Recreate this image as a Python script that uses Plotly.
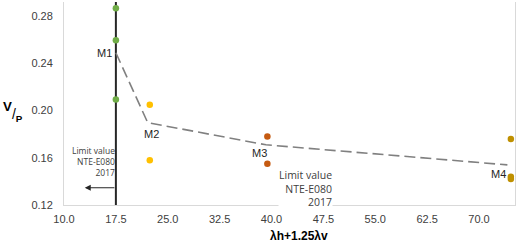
import plotly.graph_objects as go

# Data
m1_x = [17.5, 17.5, 17.5]
m1_y = [0.2868, 0.2596, 0.2094]
m2_x = [22.4, 22.4]
m2_y = [0.205, 0.158]
m3_x = [39.4, 39.4]
m3_y = [0.178, 0.155]
m4_x = [74.6, 74.6, 74.6]
m4_y = [0.176, 0.144, 0.142]
mean_x = [17.5, 22.1, 39.2, 74.1]
mean_y = [0.249, 0.1898, 0.171, 0.154]
mean_labels = ["M1", "M2", "M3", "M4"]
limit_x = 17.5
x_ticks = [10.0, 17.5, 25.0, 32.5, 40.0, 47.5, 55.0, 62.5, 70.0]
y_ticks = [0.12, 0.16, 0.20, 0.24, 0.28]

fig = go.Figure()

# vertical limit line
fig.add_trace(go.Scatter(x=[limit_x, limit_x], y=[0.12, 0.292], mode="lines",
                         line=dict(color="#262626", width=2), hoverinfo="skip"))
# mean dashed line
fig.add_trace(go.Scatter(x=mean_x, y=mean_y, mode="lines",
                         line=dict(color="#808080", width=1.6, dash="11px,5px")))

for xs, ys, c in [(m1_x, m1_y, "#70AD47"), (m2_x, m2_y, "#FFC000"),
                  (m3_x, m3_y, "#C55A11"), (m4_x, m4_y, "#BF9000")]:
    fig.add_trace(go.Scatter(x=xs, y=ys, mode="markers", cliponaxis=False,
                             marker=dict(color=c, size=6.5)))

anns = []
lab_font = dict(family="Liberation Sans, Arial", size=11, color="#262626")
# M labels: (xshift, yshift, xanchor, yanchor)
offsets = [(-2, 0, "right", "middle"), (4, -3, "center", "top"),
           (3, 0, "right", "top"), (1, -1, "right", "top")]
for x, y, t, (sx, sy, xa, ya) in zip(mean_x, mean_y, mean_labels, offsets):
    anns.append(dict(x=x, y=y, text=t, showarrow=False, xanchor=xa, yanchor=ya,
                     xshift=sx, yshift=sy, font=lab_font))

anns.append(dict(x=17.5, y=0.1715, xref="x", yref="y",
                 text="Limit value<br>NTE-E080<br>2017", showarrow=False,
                 xanchor="right", yanchor="top", align="right", xshift=0,
                 borderpad=0,
                 font=dict(family="Open Sans, Lato", size=8.5, color="#404040")))
anns.append(dict(x=48.9, y=0.1525, xref="x", yref="y",
                 text="Limit value<br>NTE-E080<br>2017", showarrow=False,
                 xanchor="right", yanchor="top", align="right", borderpad=0,
                 font=dict(family="Open Sans, Lato", size=10.5, color="#404040"),
                 bgcolor="white"))
# arrow
anns.append(dict(x=13.0, y=0.1346, ax=17.5, ay=0.1346, xref="x", yref="y",
                 axref="x", ayref="y", showarrow=True, arrowhead=2,
                 arrowsize=1, arrowwidth=1.2, arrowcolor="#262626", text=""))
# y-axis title
anns.append(dict(x=-0.113, y=0.46, xref="paper", yref="paper",
                 text="<span style='font-size:19px'><b><sup>V</sup></b></span>/<b><sub>P</sub></b>",
                 showarrow=False, xanchor="center", yanchor="middle",
                 font=dict(family="Liberation Sans, Arial", size=14, color="#000000")))
# x-axis title
anns.append(dict(x=0.52, y=-0.153, xref="paper", yref="paper",
                 text="<b>λh+1.25λv</b>", showarrow=False, yanchor="middle",
                 font=dict(family="Liberation Sans, Arial", size=12, color="#000000")))

fig.update_layout(
    width=519, height=246,
    margin=dict(l=64, r=4, t=2, b=41),
    paper_bgcolor="white", plot_bgcolor="white",
    showlegend=False,
    annotations=anns,
    xaxis=dict(range=[10, 75.2], tickvals=x_ticks, automargin=False,
               ticktext=[f"{v:.1f}" for v in x_ticks],
               showgrid=False, zeroline=False, showline=True,
               linecolor="#d9d9d9", linewidth=1, ticks="outside", ticklen=4,
               tickcolor="rgba(0,0,0,0)",
               tickfont=dict(family="Liberation Sans, Arial", size=11, color="#404040")),
    yaxis=dict(range=[0.12, 0.292], tickvals=y_ticks, automargin=False,
               ticktext=[f"{v:.2f}" for v in y_ticks],
               showgrid=False, zeroline=False, showline=True, mirror=True,
               linecolor="#d9d9d9", linewidth=1, ticks="outside", ticklen=8,
               tickcolor="rgba(0,0,0,0)",
               tickfont=dict(family="Liberation Sans, Arial", size=11, color="#404040")),
)

fig.write_html("out.html", config={"displayModeBar": False},
               post_script="document.body.style.margin='0px';")
